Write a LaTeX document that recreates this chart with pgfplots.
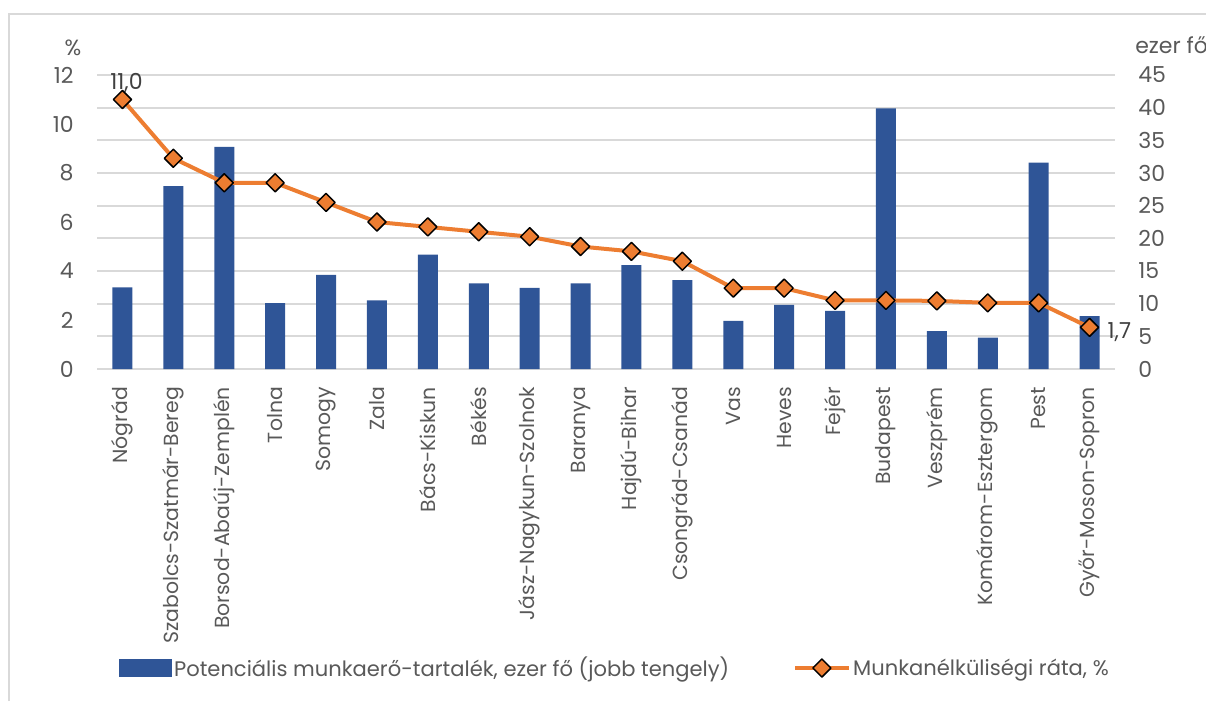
\documentclass[border=0pt]{standalone}
\usepackage{pgfplots}
\pgfplotsset{compat=1.18}
\usepackage{fontspec}
\setmainfont{Poppins}
\definecolor{barblue}{HTML}{2F5597}
\definecolor{lineorange}{HTML}{ED7D31}
\definecolor{txtgray}{HTML}{595959}
\definecolor{gridgray}{HTML}{D9D9D9}

\begin{document}
\begin{tikzpicture}
\path[use as bounding box] (0,0) rectangle (904.5pt,525.75pt);
\draw[gridgray, line width=1.5pt] (6.75pt,0) -- (6.75pt,515.25pt) -- (904.5pt,515.25pt);

\pgfplotsset{
  base/.style={
    scale only axis, width=763.5pt, height=220.5pt,
    at={(72.75pt,249pt)}, anchor=south west,
    xmin=-0.5, xmax=19.5,
    axis line style={draw=none},
    major tick style={draw=none},
    tick label style={font=\fontsize{16.5}{18}\selectfont, text=txtgray},
    /pgf/number format/assume math mode=true,
    clip=false,
  }
}

% right axis: potential labour reserve (thousand persons)
\begin{axis}[base,
  ymin=0, ymax=45, ytick={0,5,...,45},
  axis y line*=right,
  yticklabel shift=14pt,
  ymajorgrids, grid style={gridgray, line width=1.5pt},
  xtick={0,...,19},
  xticklabels={Nógrád,Szabolcs-Szatmár-Bereg,Borsod-Abaúj-Zemplén,Tolna,Somogy,Zala,Bács-Kiskun,Békés,Jász-Nagykun-Szolnok,Baranya,Hajdú-Bihar,Csongrád-Csanád,Vas,Heves,Fejér,Budapest,Veszprém,Komárom-Esztergom,Pest,Győr-Moson-Sopron},
  xticklabel style={rotate=90, anchor=east, font=\fontsize{15.3}{17}\selectfont, text=txtgray},
  xticklabel shift=10pt,
]
\addplot[ybar, bar width=15pt, fill=barblue, draw=none] coordinates {
(0,12.5) (1,28.0) (2,34.0) (3,10.1) (4,14.4) (5,10.5) (6,17.5) (7,13.1)
(8,12.4) (9,13.1) (10,15.9) (11,13.6) (12,7.35) (13,9.8) (14,8.9)
(15,39.9) (16,5.8) (17,4.8) (18,31.6) (19,8.1)
};
\end{axis}

% left axis: unemployment rate (%)
\begin{axis}[base,
  ymin=0, ymax=12, ytick={0,2,...,12},
  axis y line*=left,
  yticklabel shift=14pt,
  xtick=\empty,
  legend columns=2,
  legend style={at={(0.509,-1.017)}, anchor=center, draw=none, fill=none,
    font=\fontsize{15.8}{17}\selectfont, text=txtgray,
    /tikz/every even column/.append style={column sep=46pt}},
]
\addlegendimage{legend image code/.code={\fill[barblue] (0pt,-6.4pt) rectangle (39pt,6.4pt);}}
\addlegendentry{Potenciális munkaerő-tartalék, ezer fő (jobb tengely)}
\addplot[lineorange, line width=3pt, line join=round,
  mark=square*, mark size=4.8pt,
  mark options={rotate=45, fill=lineorange, draw=black, line width=1.1pt},
  legend image code/.code={\draw[mark repeat=2, mark phase=2] plot coordinates {(0pt,0pt) (20pt,0pt) (40pt,0pt)};}
] coordinates {
(0,11.0) (1,8.6) (2,7.6) (3,7.6) (4,6.8) (5,6.0) (6,5.8) (7,5.6)
(8,5.4) (9,5.0) (10,4.8) (11,4.4) (12,3.3) (13,3.3) (14,2.8)
(15,2.8) (16,2.78) (17,2.7) (18,2.7) (19,1.7)
};
\addlegendentry{Munkanélküliségi ráta, \%}
\node[font=\fontsize{16.5}{18}\selectfont, text=black!75, yshift=12.5pt, xshift=3pt] at (axis cs:0,11.0) {11,0};
\node[font=\fontsize{16.5}{18}\selectfont, text=black!75, anchor=west, xshift=10pt, yshift=-3.5pt] at (axis cs:19,1.7) {1,7};
\end{axis}

\node[font=\fontsize{16.5}{18}\selectfont, text=txtgray] at (54.75pt,489.75pt) {\%};
\node[font=\fontsize{16.5}{18}\selectfont, text=txtgray, anchor=west, inner sep=0pt] at (851.25pt,492pt) {ezer fő};
\end{tikzpicture}
\end{document}
